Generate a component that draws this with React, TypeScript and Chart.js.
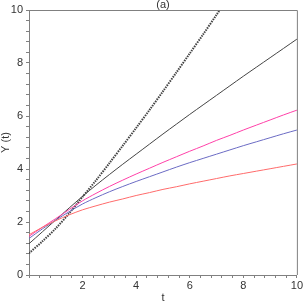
import React, { useEffect, useRef } from 'react';
import { Chart, registerables } from 'chart.js';

Chart.register(...registerables);

const tValues = [0, 0.5, 1, 1.5, 2, 2.5, 3, 3.5, 4, 4.5, 5, 5.5, 6, 6.5, 7, 7.5, 8, 8.5, 9, 9.5, 10];
const dottedY = [0.82, 1.27, 1.76, 2.33, 2.95, 3.57, 4.22, 4.88, 5.55, 6.23, 6.93, 7.64, 8.36, 9.08, 9.82, 10.56];
const blackY = [1.18, 1.63, 2.08, 2.53, 2.97, 3.39, 3.79, 4.18, 4.56, 4.94, 5.32, 5.69, 6.06, 6.42, 6.78, 7.14, 7.50, 7.85, 8.20, 8.55, 8.90];
const magentaY = [1.46, 1.80, 2.13, 2.47, 2.80, 3.08, 3.34, 3.58, 3.81, 4.03, 4.25, 4.46, 4.67, 4.87, 5.08, 5.27, 5.47, 5.66, 5.85, 6.04, 6.22];
const blueY = [1.38, 1.74, 2.07, 2.39, 2.68, 2.92, 3.14, 3.34, 3.53, 3.71, 3.89, 4.07, 4.24, 4.40, 4.56, 4.72, 4.88, 5.03, 5.18, 5.33, 5.47];
const redY = [1.52, 1.80, 2.05, 2.27, 2.46, 2.61, 2.75, 2.87, 3.00, 3.11, 3.23, 3.33, 3.44, 3.54, 3.64, 3.74, 3.83, 3.92, 4.01, 4.10, 4.19];

const xLabeledTicks = [2, 4, 6, 8, 10];
const yLabeledTicks = [0, 2, 4, 6, 8, 10];
const axisMin = 0;
const axisMax = 10;
const minorStep = 0.4;

const chartTitle = '(a)';
const xTitle = 't';
const yTitle = 'Y (t)';

const FONT = '"Liberation Sans", Arial, sans-serif';
const TEXT = '#333333';
const AXIS = '#808080';

function toPoints(ys: number[]) {
  return ys.map((y, i) => ({ x: tValues[i], y }));
}

function isLabeled(v: number, list: number[]) {
  return list.some((l) => Math.abs(l - v) < 1e-6);
}

const framePlugin = {
  id: 'framePlugin',
  afterDraw(chart: any) {
    const { ctx, chartArea } = chart;
    ctx.save();
    ctx.strokeStyle = AXIS;
    ctx.lineWidth = 1;
    ctx.beginPath();
    ctx.moveTo(chartArea.left, chartArea.top + 0.5);
    ctx.lineTo(chartArea.right + 0.5, chartArea.top + 0.5);
    ctx.lineTo(chartArea.right + 0.5, chartArea.bottom);
    ctx.stroke();
    ctx.fillStyle = TEXT;
    ctx.font = `11px ${FONT}`;
    ctx.textAlign = 'center';
    ctx.textBaseline = 'middle';
    const cx = (chartArea.left + chartArea.right) / 2;
    ctx.fillText(chartTitle, cx, 5);
    ctx.fillText(xTitle, cx, 298);
    ctx.translate(6, (chartArea.top + chartArea.bottom) / 2);
    ctx.rotate(-Math.PI / 2);
    ctx.fillText(yTitle, 0, 0);
    ctx.restore();
  },
};

export default function App() {
  const ref = useRef<HTMLCanvasElement | null>(null);
  useEffect(() => {
    if (!ref.current) return;
    const common = { fill: false, pointRadius: 0, borderWidth: 1, tension: 0.3 };
    const chart = new Chart(ref.current, {
      type: 'line',
      data: {
        datasets: [
          { ...common, data: toPoints(redY), borderColor: '#ff6b6b' },
          { ...common, data: toPoints(blueY), borderColor: '#6b6bc4' },
          { ...common, data: toPoints(magentaY), borderColor: '#ff40a8' },
          { ...common, data: toPoints(blackY), borderColor: '#444444' },
          { ...common, data: toPoints(dottedY), borderColor: '#444444', borderWidth: 2, borderDash: [1.5, 1] },
        ],
      },
      options: {
        animation: false,
        responsive: false,
        devicePixelRatio: 1,
        layout: { padding: { top: 10, right: 5, left: 0, bottom: 0 } },
        plugins: { legend: { display: false }, tooltip: { enabled: false }, title: { display: false } },
        scales: {
          x: {
            type: 'linear',
            min: axisMin,
            max: axisMax,
            afterFit: (s: any) => { s.height = 29; },
            border: { display: true, color: AXIS, width: 1 },
            grid: { display: true, drawOnChartArea: false, drawTicks: true, tickLength: 3, color: AXIS },
            ticks: {
              stepSize: minorStep,
              autoSkip: false,
              maxRotation: 0,
              padding: 1,
              color: TEXT,
              font: { family: FONT, size: 11 },
              callback: (v: any) => (isLabeled(Number(v), xLabeledTicks) ? String(Math.round(Number(v))) : ''),
            },
          },
          y: {
            type: 'linear',
            min: axisMin,
            max: axisMax,
            afterFit: (s: any) => { s.width = 29; },
            border: { display: true, color: AXIS, width: 1 },
            grid: { display: true, drawOnChartArea: false, drawTicks: true, tickLength: 3, color: AXIS },
            ticks: {
              stepSize: minorStep,
              autoSkip: false,
              padding: 3,
              color: TEXT,
              font: { family: FONT, size: 11 },
              callback: (v: any) => (isLabeled(Number(v), yLabeledTicks) ? String(Math.round(Number(v))) : ''),
            },
          },
        },
      },
      plugins: [framePlugin],
    } as any);
    return () => chart.destroy();
  }, []);
  return (
    <div style={{ position: 'absolute', left: 0, top: 0, width: 304, height: 304, background: '#fff' }}>
      <canvas ref={ref} width={304} height={304} />
    </div>
  );
}
